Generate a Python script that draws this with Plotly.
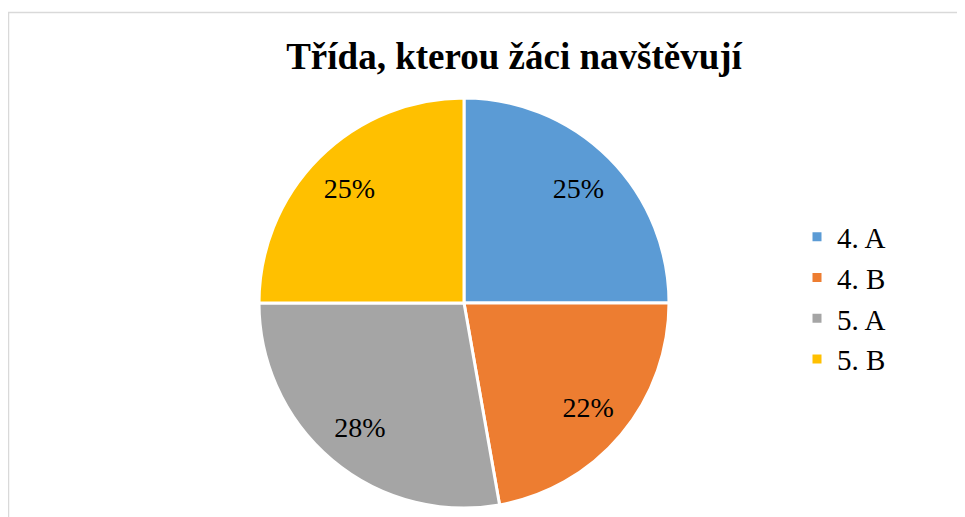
import plotly.graph_objects as go

categories = ["4. A", "4. B", "5. A", "5. B"]
counts = [9, 8, 10, 9]
colors = ["#5B9BD5", "#ED7D31", "#A5A5A5", "#FFC000"]
title_text = "Třída, kterou žáci navštěvují"

W, H = 965, 517
OFF = 8  # page body margin
cx, cy, r = 464 - OFF, 303 - OFF, 205

serif = "Liberation Serif"
domain = dict(x=[(cx - r) / W, (cx + r) / W], y=[(H - cy - r) / H, (H - cy + r) / H])

# main pie (slices + legend)
fig = go.Figure(go.Pie(
    labels=categories,
    values=counts,
    sort=False,
    direction="clockwise",
    rotation=0,
    marker=dict(colors=colors, line=dict(color="white", width=3)),
    textinfo="none",
    domain=domain,
    hoverinfo="label+percent",
))

# transparent ring carrying the percentage labels (outer part of slices)
fig.add_trace(go.Pie(
    labels=categories,
    values=counts,
    sort=False,
    direction="clockwise",
    rotation=0,
    hole=0.58,
    marker=dict(colors=["rgba(0,0,0,0)"] * len(categories), line=dict(width=0)),
    texttemplate="%{percent:.0%}",
    textposition="inside",
    insidetextorientation="horizontal",
    textfont=dict(family=serif, size=28, color="black"),
    domain=domain,
    showlegend=False,
    hoverinfo="skip",
))

fig.update_layout(
    width=W, height=H,
    margin=dict(l=0, r=0, t=0, b=0),
    paper_bgcolor="white",
    plot_bgcolor="white",
    title=dict(text="<b>" + title_text + "</b>", x=(514 - OFF) / W, xanchor="center",
               y=1 - (56 - OFF) / H, yanchor="middle",
               font=dict(family=serif, size=37, color="black")),
    showlegend=True,
    legend=dict(x=(797 - OFF) / W, xanchor="left", y=1 - (298 - OFF) / H, yanchor="middle",
                font=dict(family=serif, size=29, color="black"),
                bgcolor="rgba(0,0,0,0)"),
    shapes=[dict(type="rect", xref="paper", yref="paper",
                 x0=(8.5 - OFF) / W, x1=1.05, y0=-0.05, y1=1 - (12.5 - OFF) / H,
                 line=dict(color="#D9D9D9", width=1.5), fillcolor="rgba(0,0,0,0)", layer="below")],
)

fig.write_html("out.html")
